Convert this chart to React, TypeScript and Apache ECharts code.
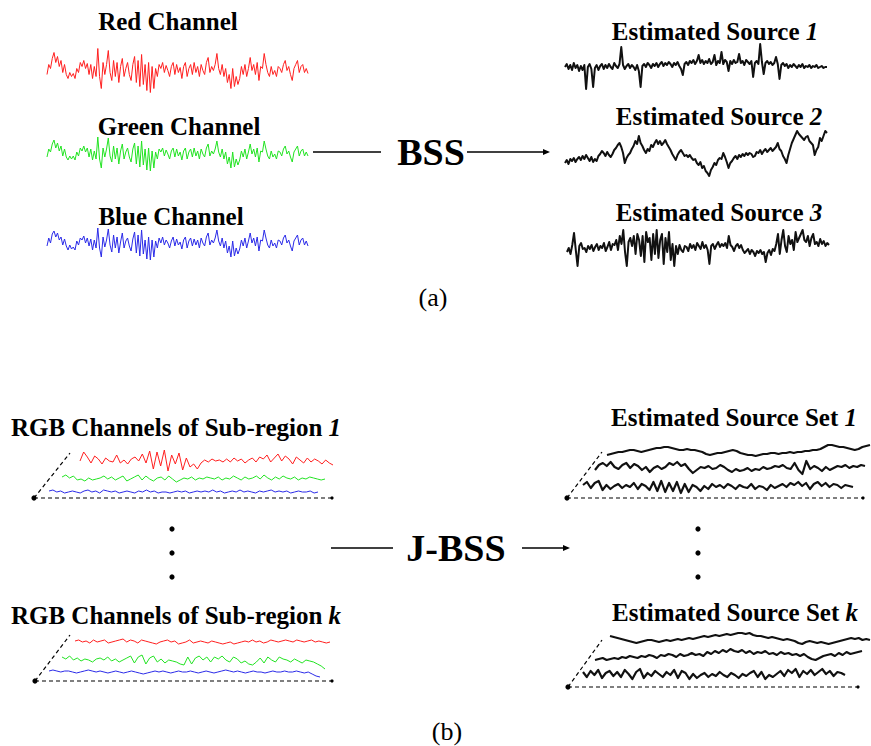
import React, { useEffect, useRef } from "react";
import * as echarts from "echarts";

// ---- signal values (pixel-scale amplitudes, up = positive) ----
const redChannel = [
  -4, 6, 2, 12, 18, 8, 14, 4, 10, -2,
  6, -4, -8, -2, -6, -3, -8, 2, -2, 8,
  4, 10, 2, 7, -4, 6, -8, 4, -6, 22,
  -6, -18, 8, -4, 6, 20, -2, -10, 10, -6,
  8, -12, 4, 12, -6, 2, 8, -4, -10, 6,
  14, -12, 10, -16, 16, -14, 6, -20, 8, -22,
  4, -18, 2, -6, 6, 2, 8, -2, 5, 0,
  -6, 4, 8, -4, 6, -2, 3, -8, 4, 8,
  -6, 2, 6, -4, 8, -2, 4, -6, 6, 0,
  -4, 8, 13, -2, 4, 0, 6, 17, 2, -4,
  6, -6, 2, -12, -4, -18, 2, -16, -6, -14,
  -8, 4, -4, 6, -6, 2, 13, 0, 6, -4,
  8, -10, 4, 2, 17, 6, -2, -6, 4, -4,
  0, -6, 4, 2, -2, 6, 10, 0, 4, -4,
  -10, 2, 6, 10, -2, 4, 6, -2, 2, -3,
];
const greenChannel = [
  -3, 5, 2, 10, 14, 6, 11, 3, 8, -2,
  5, -3, -6, -2, -5, -2, -6, 2, -2, 6,
  3, 8, 2, 6, -3, 5, -6, 3, -5, 17,
  -5, -14, 6, -3, 5, 16, -2, -8, 8, -5,
  6, -10, 3, 10, -5, 2, 6, -3, -8, 5,
  11, -10, 8, -13, 13, -11, 5, -16, 6, -17,
  3, -14, 2, -5, 5, 2, 6, -2, 4, 0,
  -5, 3, 6, -3, 5, -2, 2, -6, 3, 6,
  -5, 2, 5, -3, 6, -2, 3, -5, 5, 0,
  -3, 6, 10, -2, 3, 0, 5, 13, 2, -3,
  5, -5, 2, -10, -3, -14, 2, -13, -5, -11,
  -6, 3, -3, 5, -5, 2, 10, 0, 5, -3,
  6, -8, 3, 2, 13, 5, -2, -5, 3, -3,
  0, -5, 3, 2, -2, 5, 8, 0, 3, -3,
  -8, 2, 5, 8, -2, 3, 5, -2, 2, -2,
];
const blueChannel = [
  -2, 6, 1, 10, 13, 7, 11, 4, 7, -1,
  5, -2, -6, -1, -5, -3, -6, 3, -1, 6,
  4, 8, 1, 6, -2, 5, -6, 4, -4, 16,
  -4, -13, 7, -3, 4, 15, -1, -8, 9, -4,
  7, -9, 2, 11, -4, 3, 6, -2, -7, 5,
  12, -9, 9, -12, 14, -10, 4, -15, 7, -16,
  4, -13, 3, -4, 6, 1, 7, -1, 4, 1,
  -4, 3, 7, -2, 5, -1, 2, -5, 4, 7,
  -4, 3, 6, -2, 5, -1, 4, -4, 6, 1,
  -2, 7, 11, -1, 4, 1, 6, 14, 3, -2,
  6, -4, 3, -9, -2, -13, 3, -12, -4, -10,
  -5, 4, -2, 6, -4, 3, 11, 1, 6, -2,
  7, -7, 4, 3, 14, 6, -1, -4, 4, -2,
  1, -4, 4, 3, -1, 6, 9, 1, 4, -2,
  -7, 3, 6, 9, -1, 4, 6, -1, 3, -2,
];
const source1 = [
  0, 3, -2, 2, -3, 4, -1, 2, -4, 1,
  -3, 2, -22, 0, 3, -2, -20, -1, 2, -3,
  1, 3, -2, 2, -1, 3, 0, -2, 4, 1,
  -1, 3, 20, 2, -2, 1, 3, -1, 2, 0,
  -3, 2, -4, -20, 1, 3, 0, 4, 2, -1,
  3, 1, 4, 0, 3, 5, 1, 4, 2, 5,
  3, 0, 4, 2, 5, 1, -2, -8, 3, 5,
  2, 6, 4, 7, 3, 6, 12, 4, 7, 3,
  6, 4, 8, 3, 5, 12, 2, 6, 4, 15,
  3, 7, 5, -4, 6, 3, 7, 4, 5, 13,
  4, 6, 2, 7, 5, 3, 6, -10, 4, 6,
  3, 23, 5, -7, 4, 6, 3, 5, 2, 4,
  10, 3, -12, 2, 4, 1, 3, -1, 2, 0,
  3, 1, -1, 2, 0, 3, -1, 1, 0, 2,
  -1, 1, 0, 2, -1, 0, 1, -1, 0, 0,
];
const source2 = [
  -10, -7, -11, -6, -8, -5, -9, -6, -4, -7,
  -3, -6, -2, -5, -8, -4, -9, -6, -8, -3,
  -1, 2, 0, -3, 1, -2, -4, -1, 3, 5,
  8, 10, 6, 0, -10, -5, -2, 0, 4, 7,
  12, 9, 17, 10, 7, 3, 0, 4, 2, 8,
  6, 10, 13, 9, 12, 8, 10, 13, 9, 6,
  3, -1, -4, -7, -2, 1, 3, 0, -3, -2,
  -4, -2, -5, -7, -6, -10, -12, -9, -15, -13,
  -18, -20, -23, -17, -14, -10, -12, -7, -5, -6,
  0, -4, -9, -15, -10, -8, -5, -3, -6, -2,
  -4, -1, -3, 0, -2, 0, -1, -4, -3, 1,
  0, 3, -1, 2, 4, 1, 3, 5, 2, 4,
  6, 10, 4, 2, -3, -6, -10, -2, 4, 10,
  14, 18, 22, 19, 17, 15, 13, 16, 17, 12,
  10, 8, -2, 3, 6, 15, 12, 17, 22, 20,
];
const source3 = [
  -4, 0, -6, 3, 15, -2, -18, 2, 5, -1,
  0, -4, 2, -1, 3, -3, 1, 4, -2, 2,
  0, 5, -3, 1, 6, -2, 4, 3, 8, -2,
  12, 4, 18, -4, -18, 6, 10, 2, 12, -6,
  14, 8, -8, 12, -14, 16, 6, 10, -12, 14,
  -6, 18, -10, 8, 14, -16, 10, -4, 16, -12,
  4, -18, 2, -6, 3, -2, -4, 2, 1, -3,
  4, 0, 3, -2, 5, 2, -1, 6, 0, 3,
  -2, -16, 2, 4, -1, 3, 6, 1, 4, 2,
  5, 0, 12, 3, 1, -3, 2, 4, 0, 3,
  -2, -5, -3, -1, -6, -2, -4, -8, -3, -5,
  -2, -6, -4, -14, -5, -2, -7, -1, -3, 4,
  14, -6, 8, 18, 2, -4, 12, 4, 8, -2,
  16, 6, 10, 14, 18, 8, 6, 12, 2, 10,
  14, 4, 6, 2, 9, 4, 7, 2, 5, 3,
];

const sub1Red = [
  0, 9, 4, -2, 5, 2, -3, 3, 0, -1,
  6, -2, 1, -3, 2, 4, 0, 7, -2, 10,
  -8, 9, -5, 11, -10, 6, -3, 8, -9, 3,
  -6, -3, -8, -2, 1, -1, 2, 0, 1, -1,
  2, -1, 3, 0, 2, -2, 1, 3, -1, 4,
  2, 6, -1, 3, 7, 0, 5, 2, -3, 4,
  1, -2, 3, -1, 2, 0, -3, 1, -2, -4,
];
const sub1Green = [
  2, 4, 1, 3, -1, 0, -2, 1, -1, 0,
  1, 3, 0, 2, -1, 1, 3, -2, 0, 2,
  4, -1, 3, 0, -2, 1, 2, -1, 3, 0,
  -3, -1, 1, 0, 2, -1, 1, 0, 2, 1,
  0, 2, -1, 1, 0, 3, 1, -1, 2, 0,
  1, 3, 0, 4, 1, -1, 2, 0, 3, 1,
  0, 2, -1, 1, 0, 2, 1, 0, -1, 0,
];
const sub1Blue = [
  1, 2, 0, 1, -1, 0, 1, 0, -1, 1,
  2, 0, 1, -1, 2, 1, 0, 1, -1, 0,
  1, 0, -1, 1, 0, 2, 0, 1, -1, 0,
  0, -1, 0, 1, 0, 1, -1, 0, 1, 0,
  1, 0, 2, 0, 1, -1, 0, 1, 0, 2,
  0, 1, 0, -1, 1, 0, 1, 2, 0, 1,
  0, 1, -1, 0, 1, 0, 0, 1, -1, 0,
];
const set1Src1 = [
  -4, -3, -2, -1, -1, 0, 1, 1, 0, -1,
  0, 1, 2, 3, 3, 4, 4, 3, 2, 1,
  1, 2, 1, 1, 0, -1, -3, -4, -3, -2,
  -2, -1, 0, 1, 0, -2, -3, -4, -4, -5,
  -4, -3, -3, -2, -2, -3, -2, -2, -1, -2,
  -1, -1, 0, 0, 1, 1, 2, 4, 6, 6,
  5, 4, 4, 3, 2, 1, 2, 4, 5, 6,
];
const set1Src2 = [
  -2, 3, 5, 2, 6, 1, -1, 3, 5, 0,
  4, 2, -2, 1, -4, 0, 2, -1, 1, 5,
  3, 6, 2, 4, -1, -5, -2, 1, 0, 2,
  -1, 0, 3, 1, -2, -4, -1, -3, -2, 0,
  -3, -1, -2, 1, -1, 0, 2, 1, 3, 0,
  -1, 5, -2, -6, 7, -1, 2, 0, -3, 1,
  -2, 0, 2, 1, 3, 0, 2, 1, 3, 2,
];
const set1Src3 = [
  2, 5, -1, 4, 6, -3, 2, -2, 1, 3,
  -1, 2, 0, 4, -2, 3, 1, -3, 5, -4,
  6, -5, 4, -4, 5, -6, 3, -5, 2, 0,
  -4, 1, -2, 3, 0, 2, -1, 3, 1, -2,
  2, 0, -1, 3, -2, 1, 0, -3, 2, -1,
  1, 3, 0, 4, 2, 5, 1, 4, -2, 3,
  5, 1, 4, 0, 3, 2, -1, 2, 1, 0,
];
const subKRed = [
  1, 2, 0, 1, -1, 2, 0, 1, 2, -1,
  0, 1, 2, 3, 0, 2, 1, -1, 2, 1,
  0, -1, -2, 0, 1, 2, 0, 1, -2, -1,
  0, 2, -1, 0, 1, 0, -1, 1, 0, -1,
  -2, -1, 0, -2, -1, 0, 1, 0, 2, 0,
  1, -1, 0, 2, 1, 0, 1, 2, 1, 0,
  2, 1, 0, 1, 2, 0, 1, 0, -1, 0,
];
const subKGreen = [
  3, 1, 4, 0, 2, -1, 1, 0, -2, 1,
  2, 0, 3, -1, 1, -2, 0, 2, 4, -3,
  3, 5, -4, 2, 4, -2, 1, -3, 0, -1,
  -2, -4, -5, 3, -4, 2, 4, 0, 3, -2,
  3, 1, 4, 0, -2, 3, 1, -3, -1, -4,
  -5, -2, 2, -3, 3, 0, -2, 3, 1, 0,
  -2, 1, -1, -3, 0, -1, -2, -4, -6, -9,
];
const subKBlue = [
  1, 2, 1, 0, 1, 1, 0, -1, 0, 1,
  2, 1, 0, 1, 0, -1, 0, 1, 0, -1,
  0, 1, 0, -1, -2, -1, 0, 1, 0, 1,
  0, -1, 0, 1, 0, 0, 1, 0, -1, 0,
  1, 0, -1, 0, 1, 2, 1, 0, 1, 0,
  -1, 0, 1, 0, 0, -1, 0, 1, 0, 0,
  1, 0, 0, 1, 0, -1, 0, -2, -4, -5,
];
const setKSrc1 = [
  2, 1, 0, -1, -2, -3, -4, -5, -4, -3,
  -2, -2, -3, -4, -3, -2, -3, -2, -1, -2,
  -1, 0, -1, 0, 1, 2, 1, 2, 3, 2,
  3, 4, 3, 4, 5, 5, 4, 5, 3, 2,
  2, 1, 0, 1, 0, -1, -2, -1, -2, -3,
  -5, -6, -4, -3, -4, -5, -4, -5, -6, -5,
  -4, -3, -2, -1, 0, -1, 0, -2, -1, -2,
];
const setKSrc2 = [
  -3, -2, -1, -3, -2, -1, -2, 0, -1, 1,
  0, -1, 1, 0, 2, 1, -1, 2, 1, 3,
  2, 0, 3, 1, 2, 4, 2, 3, 1, 5,
  3, 6, 4, 7, 5, 8, 6, 5, 7, 4,
  6, 3, 5, 4, 6, 3, 4, 2, 5, 3,
  4, 2, 3, 1, 3, 0, -2, -3, -1, 1,
  2, 3, 1, 4, 2, 5, 3, 4, 5, 6,
];
const setKSrc3 = [
  3, -2, 4, 0, 5, -3, 2, 4, -1, 3,
  -2, 5, 1, -4, 3, 6, -3, 2, -1, 4,
  1, -2, 3, 0, 5, -3, 4, 2, -4, 1,
  -3, 0, 2, -2, 1, -1, 3, 0, -2, 2,
  0, -3, 1, -1, 2, 4, -2, 3, -4, 0,
  -2, 1, 4, -1, 5, 2, 6, -2, 4, 1,
  5, 0, 3, 6, 1, 4, -1, 3, 2, 0,
];

// ---- labels ----
const channelLabels = ["Red Channel", "Green Channel", "Blue Channel"];
const sourceLabel = "Estimated Source";
const sourceIndices = ["1", "2", "3"];
const subRegionLabel = "RGB Channels of Sub-region";
const sourceSetLabel = "Estimated Source Set";
const setIndices = ["1", "k"];
const methodLabels = ["BSS", "J-BSS"];
const panelLabels = ["(a)", "(b)"];

const RED = "#ff1f1f";
const GREEN = "#22e322";
const BLUE = "#2b2be8";
const BLACK = "#111111";
const FONT = "'Liberation Serif', 'Times New Roman', serif";

type Sig = { values: number[]; left: number; width: number; cy: number; amp: number; color: string; lw: number };

const signals: Sig[] = [
  { values: redChannel, left: 47, width: 261, cy: 70.5, amp: 24, color: RED, lw: 1 },
  { values: greenChannel, left: 47, width: 261, cy: 154, amp: 20, color: GREEN, lw: 1 },
  { values: blueChannel, left: 47, width: 261, cy: 244, amp: 20, color: BLUE, lw: 1 },
  { values: source1, left: 565, width: 262, cy: 67, amp: 25, color: BLACK, lw: 2 },
  { values: source2, left: 565, width: 262, cy: 153, amp: 26, color: BLACK, lw: 2 },
  { values: source3, left: 567, width: 262, cy: 248, amp: 20, color: BLACK, lw: 2 },
  { values: sub1Red, left: 80, width: 253, cy: 461, amp: 12, color: RED, lw: 1 },
  { values: sub1Green, left: 62, width: 263, cy: 479, amp: 6, color: GREEN, lw: 1 },
  { values: sub1Blue, left: 49, width: 269, cy: 492, amp: 4, color: BLUE, lw: 1 },
  { values: set1Src1, left: 607, width: 263, cy: 451, amp: 8, color: BLACK, lw: 2.2 },
  { values: set1Src2, left: 595, width: 270, cy: 468, amp: 8, color: BLACK, lw: 2.2 },
  { values: set1Src3, left: 583, width: 270, cy: 487, amp: 8, color: BLACK, lw: 2.2 },
  { values: subKRed, left: 75, width: 255, cy: 642, amp: 5, color: RED, lw: 1 },
  { values: subKGreen, left: 62, width: 263, cy: 660, amp: 10, color: GREEN, lw: 1 },
  { values: subKBlue, left: 49, width: 271, cy: 672, amp: 6, color: BLUE, lw: 1 },
  { values: setKSrc1, left: 610, width: 260, cy: 638, amp: 8, color: BLACK, lw: 2.2 },
  { values: setKSrc2, left: 595, width: 267, cy: 657, amp: 8, color: BLACK, lw: 2.2 },
  { values: setKSrc3, left: 583, width: 262, cy: 675, amp: 7, color: BLACK, lw: 2.2 },
];

function label(text: string, x: number, y: number, idx?: string, size = 25) {
  return {
    type: "text",
    x,
    y,
    style: {
      text: idx !== undefined ? `${text} {i|${idx}}` : text,
      fontFamily: FONT,
      fontWeight: "bold",
      fontSize: size,
      fill: "#000",
      align: "center",
      verticalAlign: "middle",
      rich: { i: { fontFamily: FONT, fontWeight: "bold", fontStyle: "italic", fontSize: size, fill: "#000" } },
    },
  };
}

function hline(x1: number, x2: number, y: number, arrow: boolean) {
  const els: any[] = [
    { type: "line", shape: { x1, y1: y, x2: arrow ? x2 - 5 : x2, y2: y }, style: { stroke: "#000", lineWidth: 1.3 } },
  ];
  if (arrow) {
    els.push({ type: "polygon", shape: { points: [[x2, y], [x2 - 7, y - 3], [x2 - 7, y + 3]] }, style: { fill: "#000" } });
  }
  return els;
}

function frame(cx: number, cy: number, tx: number, ty: number, ex: number) {
  return [
    { type: "line", shape: { x1: cx, y1: cy, x2: tx, y2: ty }, style: { stroke: "#000", lineWidth: 1.2, lineDash: [4, 3] } },
    { type: "line", shape: { x1: cx, y1: cy, x2: ex, y2: cy }, style: { stroke: "#000", lineWidth: 1.2, lineDash: [4, 3] } },
    { type: "circle", shape: { cx, cy, r: 2.6 }, style: { fill: "#000" } },
    { type: "circle", shape: { cx: ex, cy, r: 1.6 }, style: { fill: "#000" } },
  ];
}

function dots(x: number) {
  return [529, 553, 577].map((y) => ({ type: "circle", shape: { cx: x, cy: y, r: 2.6 }, style: { fill: "#000" } }));
}

export default function App() {
  const ref = useRef<HTMLDivElement>(null);
  useEffect(() => {
    if (!ref.current) return;
    const chart = echarts.init(ref.current, undefined, { renderer: "svg" });
    const grid = signals.map((s) => ({ left: s.left, width: s.width, top: s.cy - s.amp, height: s.amp * 2 }));
    const xAxis = signals.map((s, i) => ({
      gridIndex: i,
      type: "category",
      data: s.values.map((_, j) => j),
      boundaryGap: false,
      show: false,
    }));
    const yAxis = signals.map((s, i) => ({ gridIndex: i, type: "value", min: -s.amp, max: s.amp, show: false }));
    const series = signals.map((s, i) => ({
      type: "line",
      xAxisIndex: i,
      yAxisIndex: i,
      data: s.values,
      symbol: "none",
      silent: true,
      lineStyle: { color: s.color, width: s.lw, join: "round" },
    }));
    const graphic: any[] = [
      label(channelLabels[0], 168, 21),
      label(channelLabels[1], 179, 126),
      label(channelLabels[2], 171, 216),
      label(sourceLabel, 715, 31, sourceIndices[0]),
      label(sourceLabel, 719, 116, sourceIndices[1]),
      label(sourceLabel, 719, 212, sourceIndices[2]),
      label(methodLabels[0], 431, 152, undefined, 38),
      ...hline(313, 381, 152, false),
      ...hline(467, 550, 152, true),
      { type: "text", x: 433, y: 297, style: { text: panelLabels[0], fontFamily: FONT, fontSize: 26, fill: "#000", align: "center", verticalAlign: "middle" } },
      label(subRegionLabel, 176, 427, setIndices[0]),
      label(sourceSetLabel, 734, 417, setIndices[0]),
      label(subRegionLabel, 176, 615, setIndices[1]),
      label(sourceSetLabel, 735, 612, setIndices[1]),
      ...frame(34, 498, 70, 453, 332),
      ...frame(567, 498, 602, 452, 863),
      ...frame(35, 681, 70, 635, 332),
      ...frame(568, 687, 602, 640, 858),
      ...dots(172),
      ...dots(698),
      label(methodLabels[1], 456, 548, undefined, 38),
      ...hline(331, 393, 548, false),
      ...hline(522, 570, 548, true),
      { type: "text", x: 447, y: 731, style: { text: panelLabels[1], fontFamily: FONT, fontSize: 26, fill: "#000", align: "center", verticalAlign: "middle" } },
    ];
    chart.setOption({ animation: false, grid, xAxis, yAxis, series, graphic });
    return () => chart.dispose();
  }, []);
  return (
    <div
      ref={ref}
      style={{ position: "absolute", left: 0, top: 0, width: 871, height: 746, background: "#fff" }}
    />
  );
}
